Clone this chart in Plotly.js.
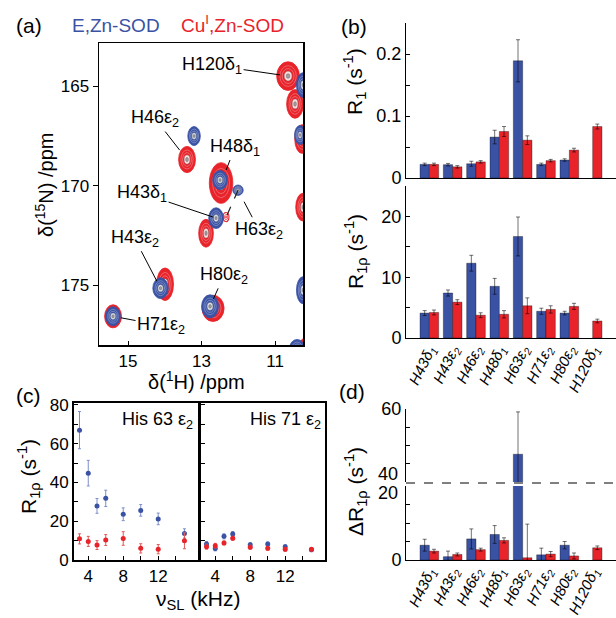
<!DOCTYPE html>
<html><head><meta charset="utf-8">
<script src="https://cdn.plot.ly/plotly-3.0.1.min.js"></script>
<style>html,body{margin:0;padding:0;background:#fff;}#chart{width:616px;height:618px;}</style>
</head><body><div id="chart"></div>
<script>
// ================= DATA =================
// (a) HSQC peaks: 1H shift, 15N shift (ppm), half-widths (ppm), relative intensity
const apoPeakH  = [13.204, 12.497, 12.605, 12.007, 14.116, 12.769, 15.408, 10.238, 10.32, 10.238, 10.40];
const apoPeakN  = [167.51, 169.72, 171.63, 170.23, 175.15, 176.06, 176.56, 164.95, 167.46, 175.25, 178.2];
const apoPeakWH = [0.17, 0.20, 0.20, 0.14, 0.21, 0.23, 0.20, 0.18, 0.15, 0.18, 0.21];
const apoPeakWN = [0.48, 0.48, 0.52, 0.26, 0.52, 0.58, 0.48, 0.62, 0.48, 0.68, 0.48];
const apoPeakI  = [1, 1, 1, 0.6, 1, 1, 1, 1, 1, 1, 1];

const cuPeakH  = [10.646, 10.456, 13.395, 12.469, 12.878, 12.333, 13.993, 12.687, 15.408, 10.238, 10.265, 10.16];
const cuPeakN  = [164.50, 165.90, 168.69, 169.87, 172.39, 171.58, 174.95, 176.16, 176.56, 171.08, 167.66, 178.17];
const cuPeakWH = [0.31, 0.23, 0.23, 0.32, 0.20, 0.08, 0.23, 0.30, 0.23, 0.20, 0.20, 0.21];
const cuPeakWN = [0.72, 0.72, 0.66, 1.02, 0.70, 0.23, 0.82, 0.66, 0.58, 0.70, 0.72, 0.52];
const cuPeakI  = [1, 1, 1, 1, 1, 0.2, 1, 1, 1, 1, 1, 1];

const peakLabels  = ['H120δ<sub>1</sub>', 'H46ε<sub>2</sub>', 'H48δ<sub>1</sub>', 'H43δ<sub>1</sub>',
                     'H63ε<sub>2</sub>', 'H43ε<sub>2</sub>', 'H80ε<sub>2</sub>', 'H71ε<sub>2</sub>'];
const peakLabelSet = ['cu', 'cu', 'cu', 'apo', 'apo', 'apo', 'apo', 'apo'];
const peakLabelIdx = [0, 2, 3, 2, 3, 4, 5, 6];

// (b) relaxation rates per residue
const residues = ['H43δ<sub>1</sub>', 'H43ε<sub>2</sub>', 'H46ε<sub>2</sub>', 'H48δ<sub>1</sub>',
                  'H63ε<sub>2</sub>', 'H71ε<sub>2</sub>', 'H80ε<sub>2</sub>', 'H120δ<sub>1</sub>'];
const r1Apo       = [0.022, 0.0215, 0.023, 0.066, 0.189, 0.022, 0.029, null];
const r1ApoErr    = [0.002, 0.002, 0.004, 0.011, 0.034, 0.002, 0.002, null];
const r1Cu        = [0.022, 0.018, 0.026, 0.075, 0.061, 0.028, 0.045, 0.083];
const r1CuErr     = [0.002, 0.002, 0.002, 0.008, 0.007, 0.002, 0.003, 0.004];
const r1rhoApo    = [4.1, 7.4, 12.3, 8.5, 16.7, 4.4, 4.1, null];
const r1rhoApoErr = [0.4, 0.5, 1.3, 1.3, 3.2, 0.5, 0.3, null];
const r1rhoCu     = [4.2, 5.9, 3.75, 3.9, 5.3, 4.7, 5.2, 2.8];
const r1rhoCuErr  = [0.4, 0.4, 0.4, 0.6, 1.3, 0.6, 0.5, 0.3];

// (c) relaxation dispersion
const nuSL      = [3, 4, 5, 6, 8, 10, 12, 15];
const h63Apo    = [67, 44.8, 27.9, 31.8, 23.6, 25.6, 21.2, 13.7];
const h63ApoErr = [9.6, 6.6, 3.8, 4.2, 3.3, 3.0, 3.0, 2.4];
const h63Cu     = [10.9, 9.6, 7.7, 10.3, 11.1, 6.0, 5.6, 9.9];
const h63CuErr  = [2.6, 2.6, 2.3, 2.8, 3.5, 2.4, 2.4, 4.1];
const h71Apo    = [8.3, 5.9, 12.2, 13.4, 7.9, 8.3, 6.9, 5.3];
const h71ApoErr = [1.2, 1.2, 1.3, 1.3, 1.0, 1.0, 1.0, 1.0];
const h71Cu     = [6.9, 7.4, 8.8, 11.2, 6.6, 6.0, 5.5, 5.5];
const h71CuErr  = [1.3, 1.2, 1.0, 1.0, 1.0, 1.0, 1.0, 0.8];

// (d) dispersion amplitude
const dApo    = [4.0, 0.9, 5.7, 6.9, 47.6, 1.4, 4.0, null];
const dApoErr = [1.6, 1.5, 2.7, 2.4, 11.6, 1.8, 1.0, null];
const dCu     = [2.4, 1.5, 2.8, 5.3, 0.6, 1.6, 1.1, 3.3];
const dCuErr  = [0.5, 0.4, 0.4, 0.7, 9.1, 0.7, 0.8, 0.5];

// ================= LAYOUT HELPERS =================
const W = 616, H = 618;
const dx = (a, b) => [a / W, b / W];
const dy = (t, b) => [1 - b / H, 1 - t / H];
const FONT = 'Arial, "Liberation Sans", Helvetica, sans-serif';
const BLUE = '#3A52A4', RED = '#E8232A';
const idx = residues.map((_, i) => i);
const resTicks = residues.map(r => '<i>' + r + '</i>');

function barTrace(y, err, color, xa, ya) {
  return {type: 'bar', x: idx, y: y, xaxis: xa, yaxis: ya, showlegend: false,
    marker: {color: color, line: {color: 'rgba(0,0,0,0.55)', width: 0.6}},
    error_y: {type: 'data', array: err, visible: true, color: 'rgba(0,0,0,0.55)', thickness: 1, width: 2}};
}
function ptsTrace(y, err, color, ecolor, xa, ya) {
  return {type: 'scatter', mode: 'markers', x: nuSL, y: y, xaxis: xa, yaxis: ya, showlegend: false,
    marker: {color: color, size: 5},
    error_y: {type: 'data', array: err, visible: true, color: ecolor, thickness: 1, width: 1.5}};
}
function peakShapes(hs, ns, whs, wns, amps, color) {
  const out = [];
  hs.forEach((h, i) => {
    const levels = amps[i] >= 0.5
      ? [[1, color, color, 0.8],
         [0.72, 'rgba(0,0,0,0)', 'rgba(255,255,255,0.55)', 0.5],
         [0.52, 'rgba(0,0,0,0)', 'rgba(255,255,255,0.6)', 0.5],
         [0.34, 'rgba(255,255,255,0.85)', 'rgba(120,120,120,0.8)', 0.5],
         [0.16, 'rgba(130,130,130,0.7)', 'rgba(90,90,90,0.9)', 0.5]]
      : [[1, 'rgba(255,255,255,0)', color, 1.1],
         [0.55, 'rgba(0,0,0,0)', color, 0.7],
         [0.2, color, color, 0.5]];
    levels.forEach(([s, fill, line, lw]) => out.push({
      type: 'circle', xref: 'x', yref: 'y', layer: 'below',
      x0: h - whs[i] * s, x1: h + whs[i] * s, y0: ns[i] - wns[i] * s, y1: ns[i] + wns[i] * s,
      fillcolor: fill, line: {color: line, width: lw}}));
  });
  return out;
}

// ================= TRACES =================
const traces = [
  {type: 'scatter', mode: 'lines', xaxis: 'x', yaxis: 'y', showlegend: false,
   x: [apoPeakH[3], cuPeakH[5]], y: [apoPeakN[3], cuPeakN[5]],
   line: {color: '#222', width: 1.2, dash: 'dash'}},
  barTrace(r1Apo, r1ApoErr, BLUE, 'x2', 'y2'),
  barTrace(r1Cu, r1CuErr, RED, 'x2', 'y2'),
  barTrace(r1rhoApo, r1rhoApoErr, BLUE, 'x3', 'y3'),
  barTrace(r1rhoCu, r1rhoCuErr, RED, 'x3', 'y3'),
  ptsTrace(h63Apo, h63ApoErr, BLUE, '#7f8fc8', 'x4', 'y4'),
  ptsTrace(h63Cu, h63CuErr, RED, '#e05a5a', 'x4', 'y4'),
  ptsTrace(h71Apo, h71ApoErr, BLUE, '#7f8fc8', 'x5', 'y5'),
  ptsTrace(h71Cu, h71CuErr, RED, '#e05a5a', 'x5', 'y5'),
  barTrace(dApo, dApoErr, BLUE, 'x6', 'y6'),
  barTrace(dCu, dCuErr, RED, 'x6', 'y6'),
  barTrace(dApo, dApoErr, BLUE, 'x7', 'y7'),
  barTrace(dCu, dCuErr, RED, 'x7', 'y7')
];

// ================= AXES =================
const base = {showgrid: false, zeroline: false, linecolor: '#000', tickcolor: '#000', fixedrange: true,
              tickfont: {family: FONT, size: 17, color: '#000'}};
const ax = o => Object.assign({}, base, o);
const catTickFont = {family: FONT, size: 15, color: '#000'};

const layout = {
  width: W, height: H, margin: {l: 0, r: 0, t: 0, b: 0},
  paper_bgcolor: '#fff', plot_bgcolor: 'rgba(0,0,0,0)',
  font: {family: FONT, color: '#000'},
  barmode: 'group', bargap: 0.2, bargroupgap: 0, showlegend: false,
  xaxis: ax({domain: dx(99, 303), anchor: 'y', range: [15.79, 10.24], tickvals: [15, 13, 11],
             ticks: 'inside', ticklen: 4, showline: true, mirror: true, linewidth: 1.5}),
  yaxis: ax({domain: dy(43, 345), anchor: 'x', range: [178.0, 162.84], tickvals: [165, 170, 175],
             ticks: 'outside', ticklen: 5, showline: true, mirror: true, linewidth: 1.5}),
  xaxis2: ax({domain: dx(406, 616), anchor: 'y2', range: [-1, 8], showline: true, linewidth: 1,
              ticks: '', showticklabels: false}),
  yaxis2: ax({domain: dy(23, 178), anchor: 'x2', range: [0, 0.25], showline: true, linewidth: 1,
              tickvals: [0, 0.05, 0.1, 0.15, 0.2, 0.25], ticktext: ['0', '', '0.1', '', '0.2', ''],
              ticks: 'inside', ticklen: 4, tickfont: {family: FONT, size: 18}}),
  xaxis3: ax({domain: dx(406, 616), anchor: 'y3', range: [-1, 8], showline: true, linewidth: 1,
              ticks: '', tickvals: idx, ticktext: resTicks, tickangle: -64, tickfont: catTickFont,
              ticklabelstandoff: -4}),
  yaxis3: ax({domain: dy(186, 338), anchor: 'x3', range: [0, 25], showline: true, linewidth: 1,
              tickvals: [0, 5, 10, 15, 20, 25], ticktext: ['0', '', '10', '', '20', ''],
              ticks: 'inside', ticklen: 4, tickfont: {family: FONT, size: 18}}),
  xaxis4: ax({domain: dx(74, 198), anchor: 'y4', range: [2.37, 16.55], showline: true, mirror: true, linewidth: 2,
              tickvals: [4, 6, 8, 10, 12, 14], ticktext: ['4', '', '8', '', '12', ''], ticks: 'inside', ticklen: 4}),
  yaxis4: ax({domain: dy(403, 560), anchor: 'x4', range: [0, 81], showline: true, mirror: true, linewidth: 2,
              tickvals: [0, 10, 20, 30, 40, 50, 60, 70, 80], ticktext: ['0', '', '20', '', '40', '', '60', '', '80'],
              ticks: 'inside', ticklen: 4}),
  xaxis5: ax({domain: dx(201, 325), anchor: 'y5', range: [2.37, 16.55], showline: true, mirror: true, linewidth: 2,
              tickvals: [4, 6, 8, 10, 12, 14], ticktext: ['4', '', '8', '', '12', ''], ticks: 'inside', ticklen: 4}),
  yaxis5: ax({domain: dy(403, 560), anchor: 'x5', range: [0, 81], showline: true, mirror: true, linewidth: 2,
              tickvals: [0, 10, 20, 30, 40, 50, 60, 70, 80], showticklabels: false, ticks: 'inside', ticklen: 4}),
  xaxis6: ax({domain: dx(406, 616), anchor: 'y6', range: [-1, 8], showline: true, linewidth: 1,
              ticks: '', tickvals: idx, ticktext: resTicks, tickangle: -64, tickfont: catTickFont,
              ticklabelstandoff: -4}),
  yaxis6: ax({domain: dy(486, 560), anchor: 'x6', range: [0, 20], showline: true, linewidth: 1,
              tickvals: [0, 5, 10, 15, 20], ticktext: ['0', '', '', '', ''], ticks: 'inside', ticklen: 4,
              tickfont: {family: FONT, size: 18}}),
  xaxis7: ax({domain: dx(406, 616), anchor: 'y7', range: [-1, 8], showline: false, ticks: '', showticklabels: false}),
  yaxis7: ax({domain: dy(409, 482), anchor: 'x7', range: [40, 60], showline: true, linewidth: 1,
              tickvals: [40, 45, 50, 55, 60], ticktext: ['', '', '', '', '60'], ticks: 'inside', ticklen: 4,
              tickfont: {family: FONT, size: 18}}),
  shapes: [],
  annotations: []
};

layout.shapes = peakShapes(cuPeakH, cuPeakN, cuPeakWH, cuPeakWN, cuPeakI, RED)
  .concat(peakShapes(apoPeakH, apoPeakN, apoPeakWH, apoPeakWN, apoPeakI, BLUE));
layout.shapes.push({type: 'line', xref: 'paper', yref: 'paper', x0: 406 / W, x1: 1,
  y0: 1 - 483 / H, y1: 1 - 483 / H, line: {color: '#000', width: 1, dash: 'dash'}});

// ================= ANNOTATIONS =================
const A = [];
const txt = (text, px, py, size, extra) => A.push(Object.assign({
  text: text, xref: 'paper', yref: 'paper', x: px / W, y: 1 - py / H, showarrow: false,
  font: {family: FONT, size: size, color: '#000'}, xanchor: 'center', yanchor: 'middle'}, extra || {}));

txt('(a)', 29, 25, 21);
txt('E,Zn-SOD', 116, 25, 19, {font: {family: FONT, size: 19, color: BLUE}});
txt('Cu<sup>I</sup>,Zn-SOD', 233, 24, 19, {font: {family: FONT, size: 19, color: RED}});
txt('(b)', 354, 27, 21);
txt('(c)', 28, 395, 21);
txt('(d)', 352, 391, 21);
txt('δ(<sup>15</sup>N) /ppm', 45, 185, 20, {textangle: -90});
txt('δ(<sup>1</sup>H) /ppm', 196, 380, 20);
txt('R<sub>1</sub> (s<sup>-1</sup>)', 355, 82, 21, {textangle: -90});
txt('R<sub>1ρ</sub> (s<sup>-1</sup>)', 355, 252, 21, {textangle: -90});
txt('R<sub>1ρ</sub> (s<sup>-1</sup>)', 28, 477, 21, {textangle: -90});
txt('ν<sub>SL</sub> (kHz)', 198, 600, 21);
txt('ΔR<sub>1ρ</sub> (s<sup>-1</sup>)', 355, 492, 21, {textangle: -90});
txt('His 63 ε<sub>2</sub>', 195, 420, 18, {xanchor: 'right'});
txt('His 71 ε<sub>2</sub>', 323, 420, 18, {xanchor: 'right'});
txt('40', 400, 474, 18, {xanchor: 'right'});
txt('20', 400, 493, 18, {xanchor: 'right'});

const labelOffsets = [[-76, -11], [-32, -41], [14, -36], [-74, -25], [21, 40], [-26, -50], [14, -31], [48, 9]];
const labelStandoff = [8, 12, 14, 3, 13, 8, 8, 8];
peakLabels.forEach((lab, i) => {
  const set = peakLabelSet[i], k = peakLabelIdx[i];
  const px = set === 'cu' ? cuPeakH[k] : apoPeakH[k];
  const py = set === 'cu' ? cuPeakN[k] : apoPeakN[k];
  A.push({text: lab, xref: 'x', yref: 'y', x: px, y: py, showarrow: true, arrowhead: 0,
    arrowwidth: 1, arrowcolor: '#000', ax: labelOffsets[i][0], ay: labelOffsets[i][1],
    standoff: labelStandoff[i], font: {family: FONT, size: 18, color: '#000'}});
});
layout.annotations = A;

Plotly.newPlot('chart', traces, layout, {staticPlot: true, displayModeBar: false});
</script>
</body></html>
